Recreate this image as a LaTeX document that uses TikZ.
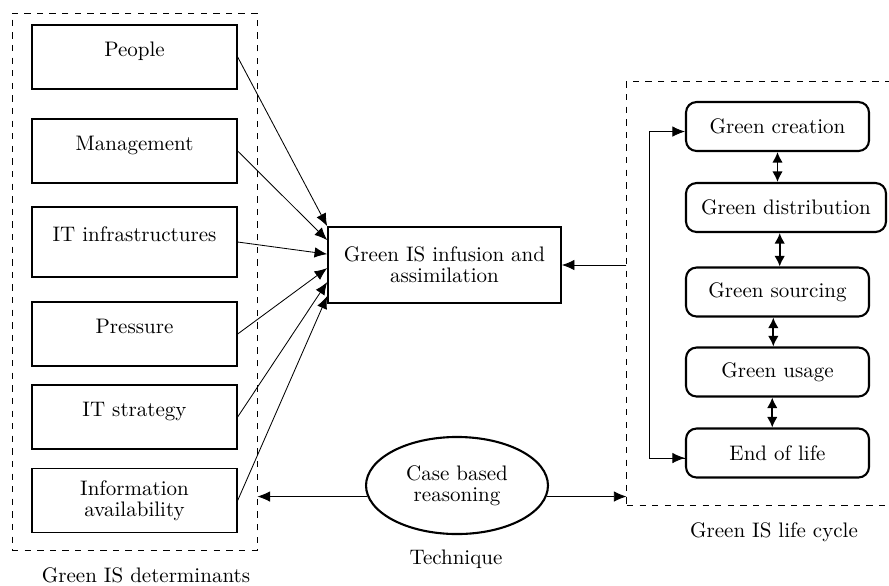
\documentclass[tikz,border=0pt]{standalone}
\usepackage{tikz}
\usetikzlibrary{arrows.meta,shapes.geometric,positioning}

\begin{document}
\begin{tikzpicture}[
	x=0.476pt, y=-0.476pt,
	every node/.style={font=\fontsize{10pt}{10pt}\selectfont},
	arr/.style={-{Latex[length=6pt,width=5pt]}},
	dblarr/.style={{Latex[length=5pt,width=5pt]}-{Latex[length=5pt,width=5pt]}, line width=0.8pt},
	detbox/.style={draw, line width=0.6pt, minimum width=97.6pt, minimum height=30.5pt,
		text height=7pt, text depth=7.5pt},
	mainbox/.style={draw, line width=0.8pt, minimum width=110.9pt, minimum height=36.2pt, align=center},
	cyclebox/.style={draw, line width=1pt, rounded corners=5pt, minimum width=87.1pt, minimum height=23.3pt},
	groupbox/.style={draw, dashed, line width=0.45pt, inner sep=0pt},
	caption/.style={inner sep=0pt}
	]
	\useasboundingbox (0,0) rectangle (889,585);
	
	% determinants
	\node[groupbox, minimum width=116.6pt, minimum height=255.6pt] (det) at (134.5,281.5) {};
	\node[detbox] (people) at (134.5,57) {People};
	\node[detbox] (mgmt) at (134.5,151) {Management};
	\node[detbox, minimum height=33.3pt] (itinfra) at (134.5,242) {IT infrastructures};
	\node[detbox] (pressure) at (134.5,334) {Pressure};
	\node[detbox] (itstrat) at (134.5,417) {IT strategy};
	\node[detbox, text height=, text depth=, align=center] (info) at (134.5,500.5) {Information\\availability};
	\node[caption] (detlabel) at (146,575) {Green IS determinants};
	
	% infusion
	\node[mainbox] (infuse) at (444.5,265) {Green IS infusion and\\assimilation};
	\foreach \src [count=\i from 0] in {people,mgmt,itinfra,pressure,itstrat,info}
		\draw[arr] (\src.east) -- ([yshift=-\i*6.66pt]infuse.north west);
	
	% life cycle
	\node[groupbox, minimum width=130pt, minimum height=201.8pt] (cycle) at (763.5,293) {};
	\node[cyclebox] (creation) at (777.5,126.5) {Green creation};
	\node[cyclebox, minimum width=95.2pt] (distribution) at (786,207.5) {Green distribution};
	\node[cyclebox] (sourcing) at (777.5,292) {Green sourcing};
	\node[cyclebox] (usage) at (777.5,372) {Green usage};
	\node[cyclebox] (endlife) at (777.5,453) {End of life};
	\node[caption] (cyclelabel) at (774,532) {Green IS life cycle};
	
	\draw[dblarr] (creation.south) -- (creation.south |- distribution.north);
	\draw[dblarr] ([xshift=-3pt]distribution.south) -- ([xshift=-3pt]distribution.south |- sourcing.north);
	\draw[dblarr] ([xshift=-2pt]sourcing.south) -- ([xshift=-2pt]sourcing.south |- usage.north);
	\draw[dblarr] ([xshift=-2.5pt]usage.south) -- ([xshift=-2.5pt]usage.south |- endlife.north);
	\draw[arr] ([yshift=-2.4pt]endlife.west) -- ++(-16.7pt,0) |- ([yshift=-2.4pt]creation.west);
	\draw[arr] ([yshift=-2.4pt]endlife.west) ++(-16.7pt,0) -- ([yshift=-2.4pt]endlife.west);
	\draw[arr] (cycle.west |- infuse.east) -- (infuse.east);
	
	% technique
	\node[ellipse, draw, line width=1pt, minimum width=86.6pt, minimum height=46.2pt, align=center, inner sep=0pt] (cbr) at (457,485.5) {Case based\\reasoning};
	\node[caption] (techlabel) at (456,559) {Technique};
	\draw[arr] (cbr.187) -- (cbr.187 -| det.east);
	\draw[arr] (cbr.353) -- (cbr.353 -| cycle.west);
\end{tikzpicture}
\end{document}
